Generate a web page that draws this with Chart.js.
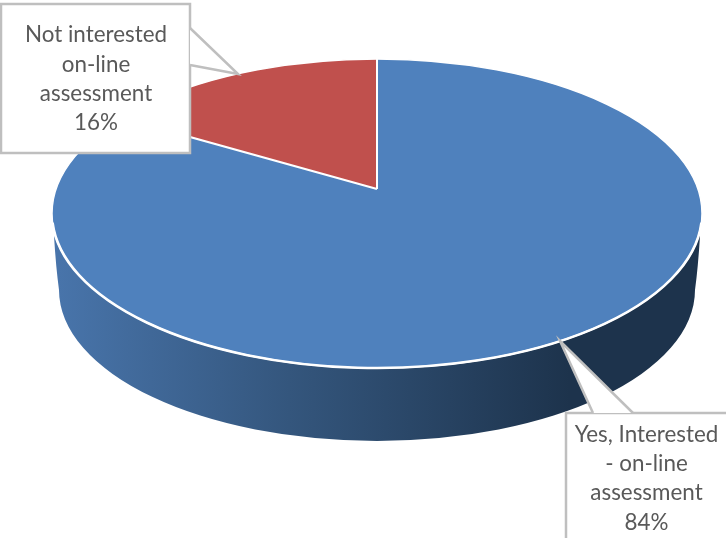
<!DOCTYPE html>
<html>
<head>
<meta charset="utf-8">
<title>On-line assessment</title>
<script src="https://cdn.jsdelivr.net/npm/chart.js@4/dist/chart.umd.min.js"></script>
<style>
  html,body{margin:0;padding:0;background:#fff;overflow:hidden}
  canvas{display:block}
</style>
</head>
<body>
<canvas id="pie" width="726" height="538"></canvas>
<script>
// Valores de la encuesta
const categories = ['Yes, Interested - on-line assessment', 'Not interested on-line assessment'];
const values     = [84, 16];
const colors     = ['#4f81bd', '#c0504d'];
// Cada etiqueta partida en renglones, el porcentaje se agrega al dibujar
const labelLines = [
  ['Yes, Interested', '- on-line', 'assessment'],
  ['Not interested', 'on-line', 'assessment']
];

// ── Geometria del disco en perspectiva ──
const TOP  = { x:377, y:213.5, rx:325, ry:154.5 };  // tapa
const BASE = { x:377, y:290,   rx:318, ry:151 };    // borde inferior de la pared
const APEX = { x:377, y:189 };                      // vertice de las porciones
const TILT = 0.438;                                 // aplastamiento vertical
const REACH = 450;                                  // radio antes de recortar contra la tapa

// Globos de texto: caja, punta y base de la flecha
const CALLOUTS = [
  { box:[566,413,200,160], cx:646.5, cy:434.5,
    ptr:[[633,413],[560,341],[593,413]] },
  { box:[1,4,189,149], cx:96, cy:35,
    ptr:[[190,28],[238,74],[190,65]] }
];

function drawWall(ctx){
  const grad = ctx.createLinearGradient(BASE.x-BASE.rx, 0, 570, 0);
  grad.addColorStop(0,    '#4874aa');
  grad.addColorStop(0.45, '#34567d');
  grad.addColorStop(1,    '#1d334c');
  ctx.beginPath();
  ctx.moveTo(54, 236);
  ctx.quadraticCurveTo(56, 268, BASE.x-BASE.rx, BASE.y);
  ctx.ellipse(BASE.x, BASE.y, BASE.rx, BASE.ry, 0, Math.PI, 0, true);
  ctx.quadraticCurveTo(698, 268, 700, 236);
  ctx.lineTo(TOP.x, TOP.y);
  ctx.closePath();
  ctx.fillStyle = grad;
  ctx.fill();
}

function drawCallout(ctx, c, lines){
  const [x,y,w,h] = c.box;
  ctx.beginPath();
  ctx.rect(x,y,w,h);
  ctx.fillStyle = '#fff';
  ctx.fill();
  ctx.strokeStyle = '#bfbfbf';
  ctx.lineWidth = 2.5;
  ctx.stroke();
  // flecha: se rellena encima para borrar el tramo de caja que cubre
  ctx.beginPath();
  ctx.moveTo(c.ptr[0][0], c.ptr[0][1]);
  ctx.lineTo(c.ptr[1][0], c.ptr[1][1]);
  ctx.lineTo(c.ptr[2][0], c.ptr[2][1]);
  ctx.closePath();
  ctx.fill();
  ctx.beginPath();
  ctx.moveTo(c.ptr[0][0], c.ptr[0][1]);
  ctx.lineTo(c.ptr[1][0], c.ptr[1][1]);
  ctx.lineTo(c.ptr[2][0], c.ptr[2][1]);
  ctx.stroke();

  ctx.fillStyle = '#595959';
  ctx.font = '22.4px Lato';
  ctx.textAlign = 'center';
  ctx.textBaseline = 'middle';
  lines.forEach((t,i)=>ctx.fillText(t, c.cx, c.cy + i*29.3));
}

const disc3d = {
  id:'disc3d',
  beforeDatasetsDraw(chart){
    const ctx = chart.ctx;
    const arc = chart.getDatasetMeta(0).data[0];
    drawWall(ctx);
    ctx.save();
    ctx.beginPath();
    ctx.ellipse(TOP.x, TOP.y, TOP.rx, TOP.ry, 0, 0, Math.PI*2);
    ctx.clip();
    const k = REACH / arc.outerRadius;
    ctx.translate(APEX.x, APEX.y);
    ctx.scale(k, k*TILT);
    ctx.translate(-arc.x, -arc.y);
  },
  afterDatasetsDraw(chart){
    const ctx = chart.ctx;
    const arcs = chart.getDatasetMeta(0).data;
    // Separadores blancos entre porciones
    ctx.beginPath();
    arcs.forEach(a=>{
      ctx.moveTo(a.x, a.y);
      ctx.lineTo(a.x + Math.cos(a.startAngle)*a.outerRadius, a.y + Math.sin(a.startAngle)*a.outerRadius);
    });
    ctx.setTransform(1,0,0,1,0,0);
    ctx.strokeStyle = '#fff';
    ctx.lineWidth = 2;
    ctx.stroke();
    ctx.restore();
    // Contorno de la tapa, mas grueso en el frente
    ctx.strokeStyle = '#fff';
    ctx.lineWidth = 1.5;
    ctx.beginPath();
    ctx.ellipse(TOP.x, TOP.y, TOP.rx, TOP.ry, 0, 0, Math.PI*2);
    ctx.stroke();
    ctx.lineWidth = 2.6;
    ctx.beginPath();
    ctx.ellipse(TOP.x, TOP.y, TOP.rx, TOP.ry, 0, 0.06, Math.PI-0.06);
    ctx.stroke();
  },
  afterDraw(chart){
    const ctx = chart.ctx;
    CALLOUTS.forEach((c,i)=>{
      drawCallout(ctx, c, [...labelLines[i], values[i]+'%']);
    });
  }
};

new Chart(document.getElementById('pie'), {
  type:'pie',
  data:{
    labels:categories,
    datasets:[{
      data:values,
      backgroundColor:colors,
      borderWidth:0
    }]
  },
  options:{
    responsive:false,
    animation:false,
    plugins:{
      legend:{ display:false },
      tooltip:{ enabled:false }
    }
  },
  plugins:[disc3d]
});
</script>
</body>
</html>
